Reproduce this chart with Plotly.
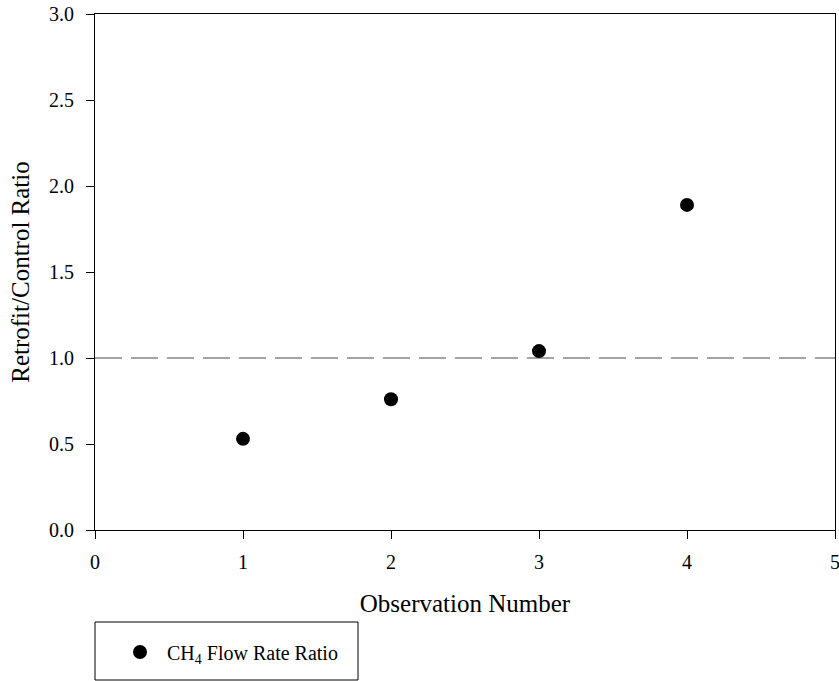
import plotly.graph_objects as go

observation = [1, 2, 3, 4]
flow_ratio = [0.53, 0.76, 1.04, 1.89]
ref_x = [0, 5]
ref_ratio = [1.0, 1.0]
x_ticks = [0, 1, 2, 3, 4, 5]
y_ticks = [0.0, 0.5, 1.0, 1.5, 2.0, 2.5, 3.0]

FONT = "Liberation Serif, Times New Roman, serif"

W, H = 839, 681
PL, PR, PT, PB = 95, 835, 14, 530  # plot area in page pixels
pw = PR - PL
ph = PB - PT


def px_to_x(px):
    return (px - PL) / pw


def py_to_y(py):
    return (PB - py) / ph


fig = go.Figure()
fig.add_trace(go.Scatter(
    x=ref_x, y=ref_ratio, mode="lines",
    line=dict(color="#4a4a4a", width=1.2, dash="27px,9px"),
    showlegend=False, hoverinfo="skip"))
fig.add_trace(go.Scatter(
    x=observation, y=flow_ratio, mode="markers",
    marker=dict(color="black", size=14),
    name="CH<sub>4</sub> Flow Rate Ratio"))

fig.add_shape(type="rect", xref="paper", yref="paper",
              x0=px_to_x(95), x1=px_to_x(358), y0=py_to_y(680), y1=py_to_y(622),
              line=dict(color="black", width=1), fillcolor="white", layer="below")

fig.update_layout(
    width=W, height=H,
    margin=dict(l=PL, r=W - PR, t=PT, b=H - PB, autoexpand=False),
    paper_bgcolor="white", plot_bgcolor="white",
    font=dict(family=FONT, size=20, color="black"),
    showlegend=True,
    legend=dict(x=px_to_x(113), y=py_to_y(652), xanchor="left", yanchor="middle",
                bgcolor="rgba(0,0,0,0)", font=dict(family=FONT, size=20),
                itemwidth=44),
    xaxis=dict(range=[0, 5], tickvals=x_ticks, ticktext=[str(v) for v in x_ticks],
               showgrid=False, zeroline=False, showline=True, linecolor="black",
               linewidth=1, mirror=True, ticks="outside", ticklen=8, tickcolor="black",
               tickfont=dict(family=FONT, size=20), ticklabelstandoff=6,
               automargin=False, ticklabeloverflow="allow",
               title=dict(text="Observation Number", font=dict(family=FONT, size=25),
                          standoff=22)),
    yaxis=dict(range=[0, 3], tickvals=y_ticks, ticktext=[f"{v:.1f}" for v in y_ticks],
               showgrid=False, zeroline=False, showline=True, linecolor="black",
               linewidth=1, mirror=True, ticks="outside", ticklen=8, tickcolor="black",
               tickfont=dict(family=FONT, size=20), ticklabelstandoff=8,
               automargin=False, ticklabeloverflow="allow",
               title=dict(text="Retrofit/Control Ratio", font=dict(family=FONT, size=25),
                          standoff=12)),
)

fig.write_html("out.html", config={"displayModeBar": False},
               post_script="document.body.style.margin='0px';document.body.style.overflow='hidden';")
